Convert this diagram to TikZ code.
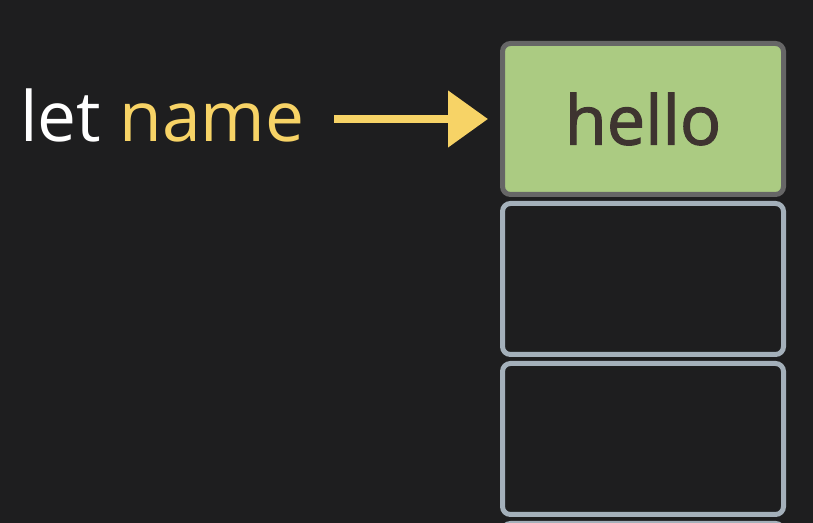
\documentclass[tikz,border=0pt]{standalone}
\usepackage{fontspec}
\setmainfont{Open Sans}
\newfontfamily\cellfont[FakeBold=1.6]{Open Sans}
\usepackage{xcolor}
\usetikzlibrary{arrows.meta,positioning}

\definecolor{bgdark}{HTML}{1E1E1F}
\definecolor{varyellow}{HTML}{F7D366}
\definecolor{cellgreen}{HTML}{ABCB82}
\definecolor{cellgray}{HTML}{A4B0BA}
\definecolor{usedgray}{HTML}{666666}
\definecolor{inkbrown}{HTML}{3E3430}

\begin{document}
\begin{tikzpicture}[
    node distance=0.08cm,
    cell/.style={draw=cellgray, line width=0.1cm, rounded corners=0.16cm, fill=bgdark,
                 minimum width=5.62cm, minimum height=3.02cm, inner sep=0pt},
    usedcell/.style={cell, draw=usedgray, fill=cellgreen, text=inkbrown,
                     font=\cellfont\fontsize{39}{47}\selectfont},
    ptr/.style={-{Triangle[length=0.8cm, width=1.1cm]}, line width=0.16cm, draw=varyellow}
]
\fill[bgdark] (0,0) rectangle (16.26,10.46);
\useasboundingbox (0,0) rectangle (16.26,10.46);
\clip (0,0) rectangle (16.26,10.46);

% memory cells
\node[usedcell] (cell1) at (12.86,8.08) {hello};
\node[cell, below=of cell1] (cell2) {};
\node[cell, below=of cell2] (cell3) {};
\node[cell, below=of cell3] (cell4) {};

% variable
\node[anchor=base west, inner sep=0pt, text=white, font=\fontsize{39.5}{47}\selectfont]
    (var) at (0.4,7.62) {let \textcolor{varyellow}{name}};

\draw[ptr, shorten <=0.6cm, shorten >=0.24cm] (var.east |- cell1) -- (cell1.west);
\end{tikzpicture}
\end{document}
